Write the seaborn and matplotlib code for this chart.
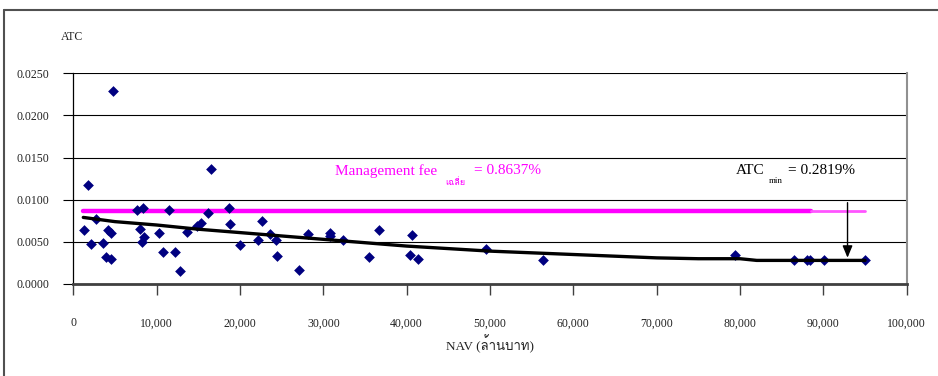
import numpy as np
import pandas as pd
import matplotlib
matplotlib.use("Agg")
import matplotlib.pyplot as plt
import seaborn as sns
from matplotlib import font_manager
from matplotlib.ft2font import FT2Font
from matplotlib.lines import Line2D

# ---------------- data ----------------
nav = [1280, 1720, 2090, 2690, 3530, 3920, 4200, 4490, 4520, 4780,
       7680, 8330, 8000, 8480, 8280, 11450, 10320, 10730, 12240, 12800,
       13680, 14800, 15290, 16130, 16560, 18650, 18840, 19970,
       22600, 22200, 23600, 24290, 24480, 27120, 28200, 30800, 30800,
       32400, 35520, 36720, 40610, 40440, 41400, 49490, 56400,
       79370, 86480, 88000, 88400, 90080, 95000]
atc = [0.0064, 0.01175, 0.0048, 0.0077, 0.0049, 0.0032, 0.0064, 0.0060, 0.0030, 0.0229,
       0.0088, 0.0090, 0.0065, 0.0056, 0.0050, 0.0088, 0.0060, 0.0038, 0.0038, 0.0015,
       0.0062, 0.0069, 0.0072, 0.0084, 0.0136, 0.0090, 0.0071, 0.0046,
       0.0075, 0.0052, 0.0059, 0.0052, 0.0033, 0.0017, 0.0059, 0.0060, 0.0057,
       0.0052, 0.0032, 0.0064, 0.0058, 0.0034, 0.0030, 0.0041, 0.0028,
       0.0034, 0.0028, 0.0029, 0.0029, 0.0028, 0.0028]

trend_x = [1200, 5000, 10000, 15000, 20000, 25000, 30000, 35000, 40000, 45000,
           50000, 55000, 60000, 65000, 70000, 75000, 80000, 82000, 95000]
trend_y = [0.0079, 0.0074, 0.0070, 0.0065, 0.0061, 0.0057, 0.0053, 0.0049, 0.0045, 0.0042,
           0.0039, 0.0037, 0.0035, 0.0033, 0.0031, 0.0030, 0.0030, 0.0028, 0.0028]

fee_x = [1200, 88500]
fee_tail_x = [88500, 95000]
fee_value = 0.008637
atc_min_value = 0.002819
atc_min_nav = 92900

y_ticks = [0.0, 0.005, 0.010, 0.015, 0.020, 0.025]
x_ticks = [0, 10000, 20000, 30000, 40000, 50000, 60000, 70000, 80000, 90000, 100000]

# ---------------- fonts ----------------
def find_thai_font():
    names = []
    for f in font_manager.fontManager.ttflist:
        try:
            if 0x0E25 in FT2Font(f.fname).get_charmap():
                names.append(f.name)
        except Exception:
            pass
    return names

thai = find_thai_font()
SERIF = ["Liberation Serif", "DejaVu Serif"]
THAI = SERIF + thai[:1] + ["DejaVu Sans"]

sns.set_theme(style="white")
plt.rcParams["font.family"] = SERIF

fig = plt.figure(figsize=(9.38, 3.76), dpi=100)
W, H = 938, 376
ax = fig.add_axes([73.3 / W, 1 - 284 / H, (906.7 - 73.3) / W, (284 - 73.3) / H])

# outer chart frame (top + left)
fig.add_artist(Line2D([4 / W, 4 / W], [1 - 10 / H, 0], transform=fig.transFigure,
                      color="#505050", lw=1.5))
fig.add_artist(Line2D([4 / W, 1], [1 - 10 / H, 1 - 10 / H], transform=fig.transFigure,
                      color="#505050", lw=1.5))

df = pd.DataFrame({"NAV": nav, "ATC": atc})
tr = pd.DataFrame({"NAV": trend_x, "ATC": trend_y})
fee = pd.DataFrame({"NAV": fee_x, "ATC": [fee_value] * len(fee_x)})
fee_tail = pd.DataFrame({"NAV": fee_tail_x, "ATC": [fee_value] * len(fee_tail_x)})

ax.set_axisbelow(True)
for yv in y_ticks:
    ax.axhline(yv, color="black", lw=0.8, zorder=0)

sns.lineplot(data=fee, x="NAV", y="ATC", ax=ax, color="#FF00FF", lw=3.2, zorder=2)
sns.lineplot(data=fee_tail, x="NAV", y="ATC", ax=ax, color="#FF55FF", lw=2.0, zorder=2)
sns.scatterplot(data=df, x="NAV", y="ATC", ax=ax, marker="D", s=30,
                color="#000080", linewidth=0, zorder=3)
sns.lineplot(data=tr, x="NAV", y="ATC", ax=ax, color="black", lw=2.4, zorder=4)

ax.annotate("", xy=(atc_min_nav, atc_min_value + 0.0003), xytext=(atc_min_nav, 0.00965),
            arrowprops=dict(arrowstyle="-|>,head_length=0.6,head_width=0.25",
                            color="black", lw=1.0, shrinkA=0, shrinkB=0), zorder=5)

ax.set_xlim(0, 100000)
ax.set_ylim(0, 0.025)
ax.set_xticks(x_ticks)
ax.set_yticks(y_ticks)
ax.set_xticklabels([f"{v:,.0f}" for v in x_ticks])
ax.set_yticklabels([f"{v:.4f}" for v in y_ticks])
ax.tick_params(axis="x", direction="out", length=8, width=1, color="#404040",
               pad=16, labelsize=8.5, bottom=True)
ax.tick_params(axis="y", direction="out", length=7, width=0.8, color="black",
               pad=10, labelsize=8.5, left=True)
for lab in ax.get_xticklabels() + ax.get_yticklabels():
    lab.set_family(SERIF)
    lab.set_color("#222222")

ax.spines["top"].set_visible(False)
ax.spines["left"].set_color("black")
ax.spines["left"].set_linewidth(0.9)
ax.spines["bottom"].set_color("#404040")
ax.spines["bottom"].set_linewidth(2.0)
ax.spines["right"].set_color("#909090")
ax.spines["right"].set_linewidth(1.5)

ax.set_xlabel("NAV (ล้านบาท)", family=THAI, fontsize=9.5, labelpad=4, color="#222222")
ax.set_ylabel("")
fig.text(72 / W, 1 - 37 / H, "ATC", ha="center", va="center", fontsize=8.5,
         family=SERIF, color="#222222")

# Management fee annotation
mg = "#FF00FF"
t1 = ax.text(31400, 0.01341, "Management fee", color=mg, fontsize=11,
             family=SERIF, va="center", ha="left")
t2 = ax.annotate("เฉลี่ย", xy=(1, 0), xycoords=t1, xytext=(6, 0),
                 textcoords="offset points", color=mg, fontsize=6.5, family=THAI,
                 va="top", ha="left")
t3 = ax.annotate("= 0.8637%", xy=(1, 0.5), xycoords=(t2, t1), xytext=(6, 0),
                 textcoords="offset points", color=mg, fontsize=11, family=SERIF,
                 va="center", ha="left")

# ATC min annotation
a1 = ax.text(79500, 0.01341, "ATC", color="black", fontsize=11, family=SERIF,
             va="center", ha="left")
a2 = ax.annotate("min", xy=(1, 0), xycoords=a1, xytext=(3, 0),
                 textcoords="offset points", color="black", fontsize=6.5, family=SERIF,
                 va="top", ha="left")
a3 = ax.annotate("= 0.2819%", xy=(1, 0.5), xycoords=(a2, a1), xytext=(4, 0),
                 textcoords="offset points", color="black", fontsize=11, family=SERIF,
                 va="center", ha="left")

fig.savefig("out.png", dpi=100)
